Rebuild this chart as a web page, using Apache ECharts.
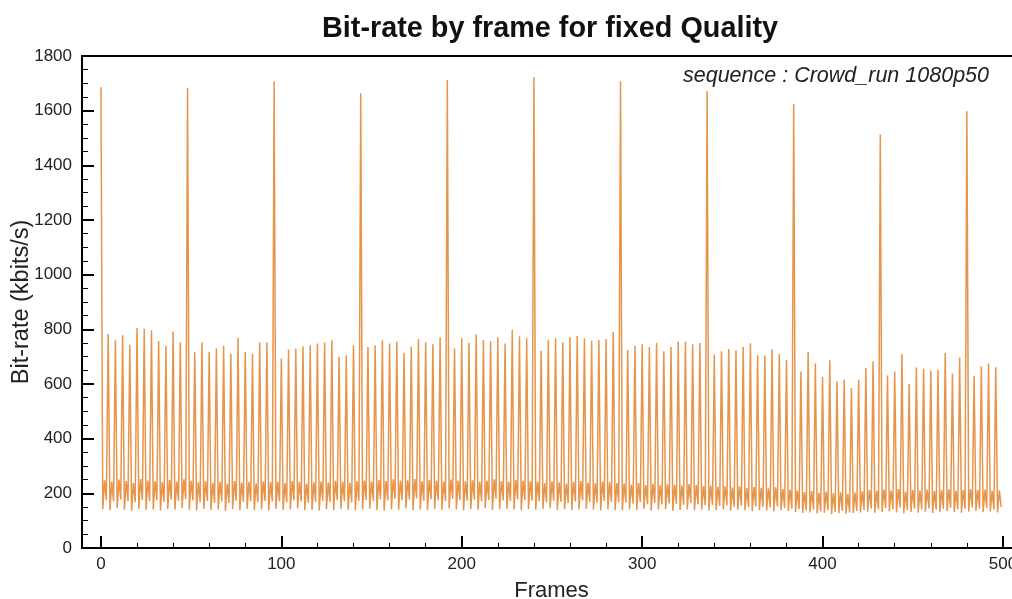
<!DOCTYPE html>
<html>
<head>
<meta charset="utf-8">
<script src="https://cdn.jsdelivr.net/npm/echarts@6/dist/echarts.min.js"></script>
<style>
  html, body { margin: 0; padding: 0; background: #fff; }
  #chart { width: 1012px; height: 599px; }
</style>
</head>
<body>
<div id="chart"></div>
<script>
// I/P reference frames: value at frames 0, 4, 8, ... 496
const refFrames = [
  1686, 784, 760, 778, 744, 805, 802, 797, 757, 740, 792, 753,
  1683, 716, 753, 718, 731, 740, 711, 769, 718, 711, 753, 753,
  1708, 693, 726, 730, 738, 742, 748, 752, 760, 700, 705, 742,
  1664, 735, 742, 760, 748, 755, 714, 736, 765, 753, 745, 771,
  1712, 731, 767, 751, 781, 761, 757, 771, 748, 798, 775, 767,
  1723, 722, 762, 767, 753, 771, 776, 767, 759, 761, 765, 790,
  1708, 725, 740, 745, 735, 750, 720, 735, 755, 755, 745, 750,
  1672, 708, 720, 728, 723, 736, 749, 705, 704, 727, 710, 688,
  1624, 646, 717, 675, 626, 687, 610, 616, 585, 616, 659, 683,
  1514, 631, 646, 710, 601, 660, 656, 649, 653, 714, 638, 697,
  1598, 629, 664, 675, 661
];
// B frames at 4k+1
const bFirst = [
  142,138,145,140,136,144,139,141,137,143,140,146,
  140,137,143,139,141,136,142,138,144,139,141,137,
  143,139,141,145,138,140,137,142,139,144,140,138,
  141,144,139,137,142,140,145,138,141,139,143,140,
  145,141,138,143,140,146,139,142,144,141,138,143,
  140,143,145,139,142,138,141,144,140,137,142,139,
  138,141,139,143,137,140,142,136,139,141,138,140,
  137,139,141,136,140,138,135,139,137,134,138,136,
  132,128,130,126,129,124,127,125,128,130,133,129,
  131,134,130,127,132,129,133,128,131,135,132,129,
  133,136,131,134,130
];
// B frames at 4k+2
const bMiddle = [
  248,242,250,245,238,252,247,244,240,249,243,251,
  246,240,244,238,242,236,245,239,241,237,243,240,
  242,238,245,241,236,240,243,239,246,242,238,244,
  247,243,249,245,251,246,248,252,244,249,246,243,
  250,246,244,248,242,247,251,245,243,249,246,244,
  242,238,244,240,236,241,245,239,237,243,240,238,
  236,232,238,230,235,229,233,231,228,234,230,226,
  228,224,226,221,225,219,223,220,218,222,216,214,
  210,205,208,202,206,200,204,198,203,207,212,209,
  214,210,216,206,212,209,213,208,211,215,210,212,
  216,212,214,209,211
];
// B frames at 4k+3
const bLast = [
  175,170,178,172,168,176,171,174,169,177,173,179,
  174,168,172,166,170,165,173,169,171,167,172,170,
  171,167,174,170,165,169,172,168,175,171,167,173,
  176,172,178,174,180,175,177,181,173,178,175,172,
  179,175,173,177,171,176,180,174,172,178,175,173,
  171,167,173,169,165,170,174,168,166,172,169,167,
  166,162,168,160,165,159,163,161,158,164,160,156,
  158,154,156,151,155,149,153,150,148,152,146,144,
  142,137,140,134,138,132,136,130,135,139,144,141,
  146,142,148,138,144,141,145,140,143,147,142,144,
  148,144,146,141,150
];
const xMajorTicks = [0, 100, 200, 300, 400, 500];
const xMinorTicks = [20,40,60,80,120,140,160,180,220,240,260,280,320,340,360,380,420,440,460,480];
const titleText = 'Bit-rate by frame for fixed Quality';
const noteText = 'sequence : Crowd_run 1080p50';

const seriesData = [];
for (let g = 0; g < refFrames.length; g++) {
  seriesData.push([4 * g, refFrames[g]]);
  seriesData.push([4 * g + 1, bFirst[g]]);
  seriesData.push([4 * g + 2, bMiddle[g]]);
  seriesData.push([4 * g + 3, bLast[g]]);
}

const chart = echarts.init(document.getElementById('chart'), null, { renderer: 'canvas' });
const FONT = 'Liberation Sans, Arial, Helvetica, sans-serif';
const plain = v => String(v);
chart.setOption({
  animation: false,
  backgroundColor: '#fff',
  grid: { left: 82, right: -9, top: 56, bottom: 51, outerBoundsMode: 'none', containLabel: false,
          show: true, borderColor: '#000', borderWidth: 2 },
  graphic: [
    { type: 'text', left: 322, top: 15, style: { text: titleText, font: 'bold 28.8px ' + FONT, fill: '#111' } },
    { type: 'text', right: 23, top: 65, style: { text: noteText, font: 'italic 21.5px ' + FONT, fill: '#222' } }
  ],
  xAxis: [
    {
      type: 'value', min: -10.5, max: 510,
      name: 'Frames', nameLocation: 'middle', nameGap: 32, nameMoveOverlap: false,
      nameTextStyle: { fontFamily: FONT, fontSize: 22, color: '#222' },
      axisLine: { show: true, onZero: false, lineStyle: { color: '#000', width: 2 } },
      axisTick: { show: true, inside: true, length: 12, customValues: xMajorTicks, lineStyle: { color: '#000', width: 2 } },
      axisLabel: { customValues: xMajorTicks, formatter: plain, fontFamily: FONT, fontSize: 17, color: '#222', margin: 8 },
      splitLine: { show: false }
    },
    {
      type: 'value', min: -10.5, max: 510, position: 'bottom',
      axisLine: { show: false, onZero: false },
      axisTick: { show: true, inside: true, length: 5, customValues: xMinorTicks, lineStyle: { color: '#000', width: 1 } },
      axisLabel: { show: false },
      splitLine: { show: false }
    }
  ],
  yAxis: {
    type: 'value', min: 0, max: 1800, interval: 200,
    name: 'Bit-rate (kbits/s)', nameLocation: 'middle', nameGap: 48, nameMoveOverlap: false,
    nameTextStyle: { fontFamily: FONT, fontSize: 23.5, color: '#222' },
    axisLine: { show: true, onZero: false, lineStyle: { color: '#000', width: 2 } },
    axisTick: { show: true, inside: true, length: 12, lineStyle: { color: '#000', width: 2 } },
    minorTick: { show: true, splitNumber: 4, length: 6, lineStyle: { color: '#000', width: 1 } },
    axisLabel: { formatter: plain, fontFamily: FONT, fontSize: 17, color: '#222', margin: 10 },
    splitLine: { show: false }
  },
  series: [{
    type: 'line',
    data: seriesData,
    showSymbol: false,
    symbol: 'none',
    lineStyle: { color: '#e6954a', width: 1.5 },
    itemStyle: { color: '#e6954a' }
  }]
});
</script>
</body>
</html>
